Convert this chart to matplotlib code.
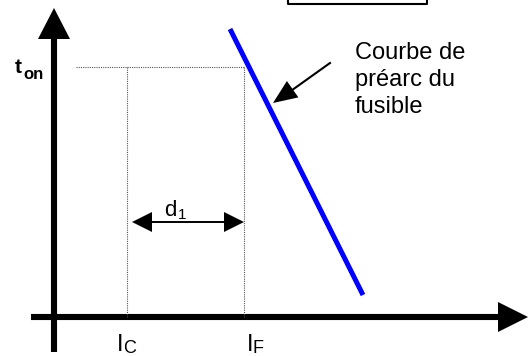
"""Fuse pre-arc curve diagram (t_on vs I)."""

import matplotlib.pyplot as plt

# Diagram geometry, in pixel units of the 531x356 image
W, H = 531, 356
origin = (54, 317)
y_axis_top = 8
x_axis_end = 528
x_axis_start = 31
y_axis_bottom = 352

t_on = 67
i_c = 127
i_f = 244
dotted_start = 76

curve_x = [230, 363]
curve_y = [29, 295]

d1_y = 222
d1_x = [132, 244]

note_arrow_start = (330, 63)
note_arrow_tip = (273, 103)
note_lines = ["Courbe de", "préarc du", "fusible"]
note_baselines = [59, 86, 113]

box_x = [288, 427]
box_y = [-5, 4]

FONT = "Liberation Sans"

fig = plt.figure(figsize=(W / 100, H / 100), dpi=100)
ax = fig.add_axes([0, 0, 1, 1])
ax.set_xlim(0, W)
ax.set_ylim(H, 0)
ax.axis("off")


def head(ax, tip, direction, length, half):
    """Filled triangular arrow head pointing along direction."""
    dx, dy = direction
    n = (dx * dx + dy * dy) ** 0.5
    dx, dy = dx / n, dy / n
    bx, by = tip[0] - dx * length, tip[1] - dy * length
    px, py = -dy, dx
    ax.fill([tip[0], bx + px * half, bx - px * half],
            [tip[1], by + py * half, by - py * half],
            color="black", lw=0, zorder=5)


def label(x, y, main, sub, size, sub_size, sub_dx, sub_dy, **kw):
    """Letter with a manually placed subscript."""
    ax.text(x, y, main, fontsize=size, family=FONT, va="baseline", **kw)
    ax.text(x + sub_dx, y + sub_dy, sub, fontsize=sub_size, family=FONT,
            va="baseline", **kw)


# Axes
ax.plot([origin[0], origin[0]], [y_axis_bottom, y_axis_top + 25],
        color="black", lw=4.4, solid_capstyle="butt")
head(ax, (origin[0], y_axis_top), (0, -1), 31, 16)
ax.plot([x_axis_start, x_axis_end - 25], [origin[1], origin[1]],
        color="black", lw=4.4, solid_capstyle="butt")
head(ax, (x_axis_end, origin[1]), (1, 0), 30, 15)

# Dotted guide lines
dot = dict(color="#555555", lw=0.8, linestyle=(0, (1, 1)))
ax.plot([dotted_start, i_f], [t_on, t_on], **dot)
ax.plot([i_c, i_c], [t_on, origin[1]], **dot)
ax.plot([i_f, i_f], [t_on, origin[1]], **dot)

# Pre-arc curve
ax.plot(curve_x, curve_y, color="#0000ff", lw=3.6, solid_capstyle="butt")

# d1 double arrow
ax.plot([d1_x[0] + 15, d1_x[1] - 15], [d1_y, d1_y], color="black", lw=1.4)
head(ax, (d1_x[0], d1_y), (-1, 0), 20, 10)
head(ax, (d1_x[1], d1_y), (1, 0), 20, 10)
label(164, 216, "d", "1", 16, 11, 14, 3)

# Annotation arrow and note
ax.plot([note_arrow_start[0], note_arrow_tip[0] + 15],
        [note_arrow_start[1], note_arrow_tip[1] - 10], color="black", lw=1.5)
head(ax, note_arrow_tip,
     (note_arrow_tip[0] - note_arrow_start[0],
      note_arrow_tip[1] - note_arrow_start[1]), 24, 10)
for line, yb in zip(note_lines, note_baselines):
    ax.text(355, yb, line, fontsize=17, family=FONT, va="baseline")

# Axis labels
label(15, 73, "t", "on", 15, 12, 8, 6, fontweight="bold")
label(117, 351, "I", "C", 17, 13, 6, 2)
label(247, 351, "I", "F", 17, 13, 6, 2)

# Partial box at the top
ax.plot([box_x[0], box_x[0], box_x[1], box_x[1]],
        [box_y[0], box_y[1], box_y[1], box_y[0]], color="black", lw=1.5)

fig.savefig("out.png", dpi=100)
